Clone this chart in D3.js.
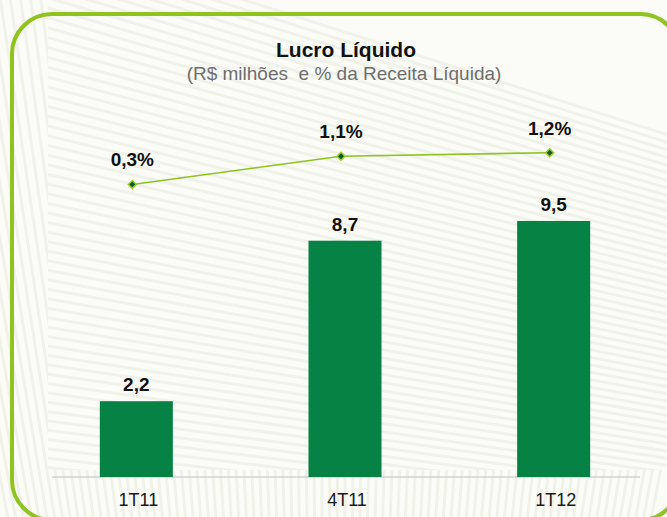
<!DOCTYPE html>
<html>
<head>
<meta charset="utf-8">
<script src="https://cdn.jsdelivr.net/npm/d3@7"></script>
<style>
  body { margin: 0; background: #fff; }
  text { font-family: "Liberation Sans", Arial, sans-serif; }
</style>
</head>
<body>
<div id="chart"></div>
<script>
const categories = ["1T11", "4T11", "1T12"];
const lucro = [2.2, 8.7, 9.5];
const lucroLabels = ["2,2", "8,7", "9,5"];
const margem = [0.3, 1.1, 1.2];
const margemLabels = ["0,3%", "1,1%", "1,2%"];

const W = 667, H = 517;
const svg = d3.select("#chart").append("svg")
    .attr("width", W)
    .attr("height", H);

// background with faint stripes
svg.append("rect").attr("width", W).attr("height", H).attr("fill", "#fbfcf8");

const bg = svg.append("g").attr("stroke", "#f0f2e9").attr("stroke-width", 3).attr("fill", "none");
const focal = [2600, 750];
d3.range(3.205, 3.45, 0.0036).forEach(a => {
    bg.append("line")
        .attr("x1", focal[0]).attr("y1", focal[1])
        .attr("x2", focal[0] + 2800 * Math.cos(a))
        .attr("y2", focal[1] + 2800 * Math.sin(a));
});

svg.append("clipPath").attr("id", "edges")
    .call(c => {
        c.append("rect").attr("x", 0).attr("y", 0).attr("width", 48).attr("height", H);
        c.append("rect").attr("x", 0).attr("y", 470).attr("width", W).attr("height", 60);
    });
const edge = svg.append("g").attr("clip-path", "url(#edges)");
edge.append("rect").attr("width", W).attr("height", H).attr("fill", "#fbfcf8");
const focal2 = [330, 2200];
d3.range(-1.76, -1.38, 0.0045).forEach(a => {
    edge.append("line")
        .attr("x1", focal2[0]).attr("y1", focal2[1])
        .attr("x2", focal2[0] + 2400 * Math.cos(a))
        .attr("y2", focal2[1] + 2400 * Math.sin(a))
        .attr("stroke", "#f0f2e9").attr("stroke-width", 3);
});

// rounded frame
svg.append("rect")
    .attr("x", 12).attr("y", 14)
    .attr("width", 668).attr("height", 506)
    .attr("rx", 40).attr("ry", 40)
    .attr("fill", "none")
    .attr("stroke", "#8fc31f")
    .attr("stroke-width", 4);

// titles
svg.append("text")
    .attr("x", 346).attr("y", 57)
    .attr("text-anchor", "middle")
    .attr("font-size", 21).attr("font-weight", "bold")
    .attr("fill", "#111")
    .text("Lucro Líquido");
svg.append("text")
    .attr("x", 344).attr("y", 80)
    .attr("text-anchor", "middle")
    .attr("font-size", 19)
    .attr("fill", "#6e6e6e")
    .style("white-space", "pre")
    .text("(R$ milhões  e % da Receita Líquida)");

// scales
const x = d3.scaleBand().domain(categories).range([32, 658]).paddingInner(0.65).paddingOuter(0.325);
const yBar = d3.scaleLinear().domain([-0.87, 10]).range([477, 208.6]);
const yPct = d3.scaleLinear().domain([0, 2]).range([195, 124.5]);

// axis baseline
const xAxis = svg.append("g")
    .attr("transform", "translate(0,477)")
    .call(d3.axisBottom(x).tickSize(0).tickPadding(16));
xAxis.select(".domain").remove();
xAxis.append("line").attr("x1", 52).attr("x2", 640).attr("stroke", "#bdbdbd");
xAxis.selectAll(".tick text")
    .attr("font-size", 18)
    .attr("fill", "#1a1a1a")
    .attr("dx", 2);

// bars
svg.selectAll(".bar")
    .data(lucro)
    .enter().append("rect")
    .attr("class", "bar")
    .attr("x", (d, i) => x(categories[i]))
    .attr("y", d => yBar(d))
    .attr("width", x.bandwidth())
    .attr("height", d => yBar(-0.87) - yBar(d))
    .attr("fill", "#078245");

svg.selectAll(".bar-label")
    .data(lucro)
    .enter().append("text")
    .attr("class", "bar-label")
    .attr("x", (d, i) => x(categories[i]) + x.bandwidth() / 2)
    .attr("y", d => yBar(d) - 10)
    .attr("text-anchor", "middle")
    .attr("font-size", 19).attr("font-weight", "bold")
    .attr("fill", "#111")
    .text((d, i) => lucroLabels[i]);

// margin line
const px = (d, i) => x(categories[i]) + x.bandwidth() / 2 - 4;
const line = d3.line().x(px).y(d => yPct(d));
svg.append("path")
    .datum(margem)
    .attr("d", line)
    .attr("fill", "none")
    .attr("stroke", "#8fc31f")
    .attr("stroke-width", 1.6);

svg.selectAll(".marker")
    .data(margem)
    .enter().append("path")
    .attr("class", "marker")
    .attr("transform", (d, i) => `translate(${px(d, i)},${yPct(d)})`)
    .attr("d", d3.symbol(d3.symbolDiamond2, 40))
    .attr("fill", "#0b5a2e")
    .attr("stroke", "#9ccc1c")
    .attr("stroke-width", 1.5);

svg.selectAll(".pct-label")
    .data(margem)
    .enter().append("text")
    .attr("class", "pct-label")
    .attr("x", px)
    .attr("y", d => yPct(d) - 18)
    .attr("text-anchor", "middle")
    .attr("font-size", 19).attr("font-weight", "bold")
    .attr("fill", "#111")
    .text((d, i) => margemLabels[i]);
</script>
</body>
</html>
